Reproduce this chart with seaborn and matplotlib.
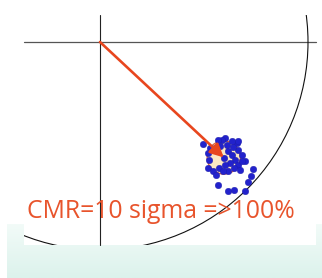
import numpy as np
import pandas as pd
import matplotlib
matplotlib.use("Agg")
import matplotlib.pyplot as plt
from matplotlib.patches import Circle, Rectangle
from matplotlib.colors import LinearSegmentedColormap
import seaborn as sns

# ---- data (units: sigma; circle radius = CMR = 10 sigma) ----
cmr_radius = 10.0
cluster_x = [4.97, 5.18, 5.24, 5.21, 5.45, 5.56, 5.72, 5.69, 6.17, 6.46,
             6.97, 7.13, 7.26, 7.37, 6.97, 6.81, 6.65, 6.57, 6.36, 6.01,
             5.85, 6.09, 6.17, 6.33, 6.49, 6.25, 6.01, 5.98, 6.65, 6.46,
             6.17, 5.93, 5.29, 5.53, 5.77, 6.65, 6.81, 6.39, 5.67, 6.73]
cluster_y = [-4.90, -5.34, -5.66, -6.06, -6.22, -6.41, -6.06, -6.89, -7.18, -7.10,
             -7.18, -6.73, -6.46, -6.09, -5.71, -5.42, -5.18, -4.86, -4.75, -4.62,
             -4.70, -4.94, -5.25, -5.42, -5.66, -5.82, -5.90, -5.58, -5.90, -6.06,
             -6.19, -6.22, -5.10, -5.10, -5.01, -4.77, -5.74, -5.05, -4.71, -6.15]
mean_xy = (5.95, -5.55)
spread_radius = 0.8
label = "CMR=10 sigma =>100%"

df = pd.DataFrame({"x": cluster_x, "y": cluster_y})

sns.set_theme(style="white")
plt.rcParams['font.family'] = ['Open Sans', 'DejaVu Sans']

fig = plt.figure(figsize=(3.22, 2.78), dpi=100)
ax = fig.add_axes([0, 0, 1, 1])
S = 20.8  # px per unit
def px2x(p): return (p - 100) / S
def px2y(p): return -(p - 42) / S

ax.set_xlim(px2x(0), px2x(322))
ax.set_ylim(px2y(278), px2y(0))
ax.set_aspect('equal')
ax.axis('off')

# mint band with gradient
grad = np.linspace(0, 1, 50).reshape(-1, 1)
cm = LinearSegmentedColormap.from_list("mint", ["#f2fbf8", "#dcf2ec"])
ax.imshow(grad, cmap=cm, extent=(px2x(7), px2x(322), px2y(278), px2y(224)),
          aspect='auto', zorder=0)
# white panel
ax.add_patch(Rectangle((px2x(24), px2y(245)), px2x(316) - px2x(24), px2y(0) - px2y(245),
                       facecolor='white', edgecolor='none', zorder=1))

# axis lines
ax.plot([px2x(24), px2x(316)], [0, 0], color='#555555', lw=0.9, zorder=2)
ax.plot([0, 0], [px2y(15), px2y(245)], color='#222222', lw=0.8, zorder=2)

# CMR circle clipped to panel
clip = Rectangle((px2x(24), px2y(245)), px2x(316) - px2x(24), px2y(15) - px2y(245),
                 transform=ax.transData, facecolor='none', edgecolor='none')
circ = Circle((0, 0), cmr_radius, fill=False, edgecolor='#111111', lw=0.8, zorder=2)
ax.add_patch(circ)
circ.set_clip_path(clip)

# spread circle
ax.add_patch(Circle(mean_xy, spread_radius, facecolor='#fbe8c4', edgecolor='#d9603a',
                    lw=0.9, zorder=3))

sns.scatterplot(data=df, x="x", y="y", ax=ax, color='#2222cc', s=22,
                edgecolor='#1a1aa8', linewidth=0.3, zorder=4, legend=False)

ax.annotate('', xy=mean_xy, xytext=(0, 0),
            arrowprops=dict(arrowstyle='-|>', color='#e8461e', lw=1.9,
                            mutation_scale=20, shrinkA=0, shrinkB=0),
            zorder=5)

ax.text(px2x(27), px2y(218), label, color='#e8542c', fontsize=17.8,
        ha='left', va='baseline', zorder=6)

ax.set_xlabel('')
ax.set_ylabel('')
fig.savefig('out.png', dpi=100)
